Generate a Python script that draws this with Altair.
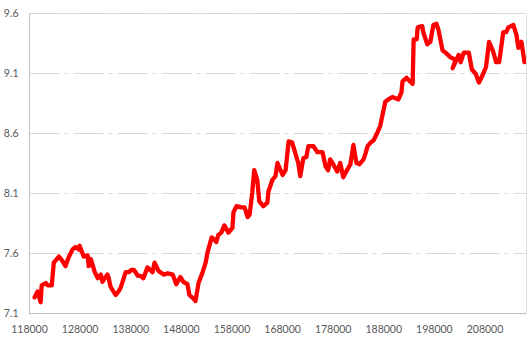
import altair as alt
import pandas as pd

x_values = [
    119100, 119700, 120300, 120500, 121300, 121700, 122500, 122900, 123900, 124500,
    125200, 125800, 126600, 127200, 127800, 128000, 128800, 129600, 129800, 130200,
    131000, 131600, 132200, 132500, 133500, 133700, 134100, 135100, 135700, 136100,
    137100, 137700, 138300, 138700, 139500, 140000, 140600, 141400, 142400, 142800,
    143600, 144600, 145400, 146400, 147100, 147900, 148500, 149300, 149700, 150500,
    150900, 151500, 152300, 152900, 153300, 154100, 154700, 155000, 155400, 156000,
    156600, 157400, 158200, 158400, 159000, 160000, 160600, 161200, 161600, 162100,
    162500, 163100, 163500, 164300, 165100, 165300, 166100, 166700, 167100, 168100,
    168700, 169300, 170000, 170700, 171200, 171600, 172200, 172800, 173200, 174200,
    175000, 176000, 176600, 177100, 177500, 178100, 178900, 179500, 180100, 180700,
    181500, 181700, 182100, 182700, 183300, 184100, 184500, 184900, 185500, 186100,
    186800, 187400, 188000, 188400, 189000, 189800, 190400, 191000, 191600, 191800,
    192600, 193000, 193800, 194000, 194600, 194800, 195700, 195900, 196700, 197300,
    197900, 198500, 198900, 199700, 200300, 201300, 202300, 201700, 202900, 203300,
    203900, 204900, 205500, 206300, 206900, 207700, 208300, 208900, 209700, 210300,
    210900, 211700, 212300, 212700, 213700, 214300, 214700, 215300, 215900,
]

y_values = [
    7.23, 7.28, 7.19, 7.33, 7.35, 7.33, 7.33, 7.52, 7.57, 7.54,
    7.49, 7.56, 7.63, 7.65, 7.63, 7.66, 7.57, 7.58, 7.49, 7.55,
    7.44, 7.39, 7.42, 7.36, 7.42, 7.40, 7.32, 7.25, 7.28, 7.31,
    7.44, 7.44, 7.46, 7.46, 7.41, 7.41, 7.39, 7.48, 7.44, 7.52,
    7.45, 7.42, 7.43, 7.42, 7.34, 7.40, 7.36, 7.34, 7.25, 7.22,
    7.20, 7.35, 7.44, 7.52, 7.61, 7.73, 7.71, 7.69, 7.75, 7.77,
    7.83, 7.77, 7.81, 7.94, 7.99, 7.98, 7.98, 7.90, 7.92, 8.10,
    8.29, 8.21, 8.03, 7.99, 8.02, 8.11, 8.21, 8.24, 8.35, 8.25,
    8.29, 8.53, 8.52, 8.42, 8.35, 8.24, 8.39, 8.40, 8.49, 8.49,
    8.44, 8.44, 8.32, 8.29, 8.38, 8.34, 8.28, 8.35, 8.23, 8.28,
    8.34, 8.39, 8.50, 8.35, 8.34, 8.38, 8.43, 8.49, 8.52, 8.54,
    8.60, 8.66, 8.78, 8.86, 8.88, 8.90, 8.89, 8.88, 8.94, 9.03,
    9.06, 9.04, 9.01, 9.38, 9.38, 9.48, 9.49, 9.44, 9.34, 9.36,
    9.50, 9.51, 9.46, 9.29, 9.27, 9.23, 9.21, 9.14, 9.25, 9.19,
    9.27, 9.27, 9.13, 9.09, 9.02, 9.09, 9.15, 9.36, 9.28, 9.19,
    9.19, 9.44, 9.44, 9.48, 9.50, 9.42, 9.31, 9.36, 9.19,
]

x_ticks = [118000, 128000, 138000, 148000, 158000, 168000, 178000, 188000, 198000, 208000]
y_ticks = [7.1, 7.6, 8.1, 8.6, 9.1, 9.6]

df = pd.DataFrame({"x": x_values, "y": y_values, "i": list(range(len(x_values)))})

chart = (
    alt.Chart(df)
    .mark_line(color="#ff0000", strokeWidth=4.3, strokeJoin="round", strokeCap="round", clip=True)
    .encode(
        x=alt.X(
            "x:Q",
            scale=alt.Scale(domain=[118000, 216200], nice=False, zero=False),
            axis=alt.Axis(
                values=x_ticks, format="d", title=None, grid=False, ticks=False,
                domainColor="#bfbfbf", domainWidth=1, labelColor="#595959",
                labelFont="Lato", labelFontSize=10.5, labelPadding=11,
                labelFlush=False,
            ),
        ),
        y=alt.Y(
            "y:Q",
            scale=alt.Scale(domain=[7.1, 9.6], nice=False, zero=False),
            axis=alt.Axis(
                values=y_ticks, format=".1f", title=None, ticks=False,
                grid=True, gridColor="#d9d9d9", gridWidth=1, gridDash=[30, 5, 4, 5],
                domainColor="#bfbfbf", domainWidth=1, labelColor="#595959",
                labelFont="Lato", labelFontSize=10.5, labelPadding=11,
                labelFlush=False,
            ),
        ),
        order="i:Q",
    )
    .properties(
        width=497,
        height=300,
        autosize=alt.AutoSizeParams(type="none"),
        padding={"left": 29, "top": 13, "right": 1, "bottom": 30},
    )
    .configure_view(stroke=None)
    .configure(background="white")
)

chart.save("out.html", embed_options={"renderer": "svg", "actions": False})
